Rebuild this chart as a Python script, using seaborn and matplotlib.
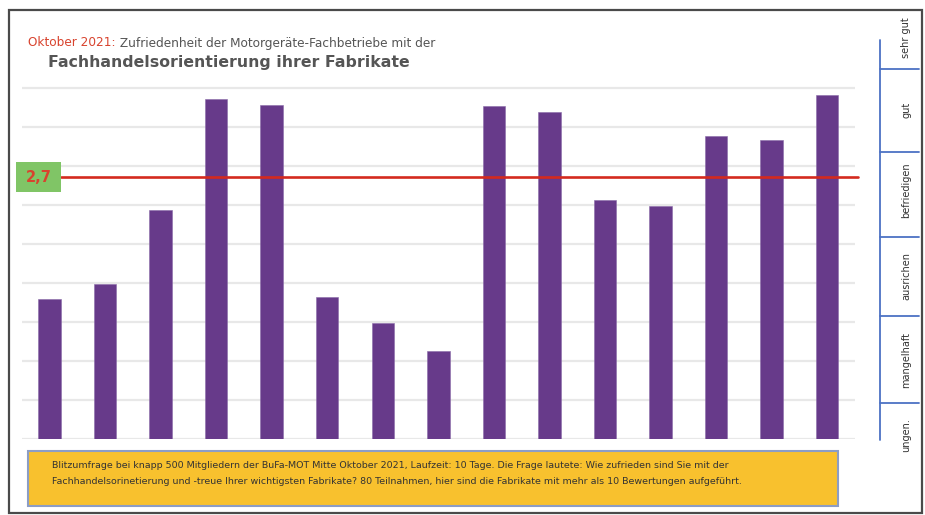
import matplotlib
matplotlib.use("Agg")
import matplotlib.pyplot as plt
import matplotlib.patches as mpatches
import matplotlib.transforms as mtransforms
import seaborn as sns
import pandas as pd
import numpy as np

# ---------------- data ----------------
fabrikate = [f"Fabrikat {i}" for i in range(1, 16)]
# school grades (1 = sehr gut ... 6 = ungenuegend)
noten = [4.21, 4.01, 3.07, 1.64, 1.72, 4.18, 4.51, 4.88, 1.73, 1.81, 2.94, 3.01, 2.11, 2.16, 1.59]
mittelwert = 2.64          # position of the red line
mittelwert_label = "2,7"
skala_labels = ["sehr gut", "gut", "befriedigen", "ausrichen", "mangelhaft", "ungen."]
skala_grenzen = [0.88, 1.25, 2.32, 3.41, 4.43, 5.54, 6.02]   # right-hand scale (grade units)
titel_rot = "Oktober 2021:"
titel_1 = "Zufriedenheit der Motorgeräte-Fachbetriebe mit der"
titel_2 = "Fachhandelsorientierung ihrer Fabrikate"
fuss_1 = ("Blitzumfrage bei knapp 500 Mitgliedern der BuFa-MOT Mitte Oktober 2021, Laufzeit: 10 Tage. "
          "Die Frage lautete: Wie zufrieden sind Sie mit der")
fuss_2 = ("Fachhandelsorinetierung und -treue Ihrer wichtigsten Fabrikate? 80 Teilnahmen, "
          "hier sind die Fabrikate mit mehr als 10 Bewertungen aufgeführt.")

SCHLECHTESTE = 6.0
df = pd.DataFrame({"fabrikat": fabrikate, "note": noten})
df["hoehe"] = SCHLECHTESTE - df["note"]

# ---------------- layout ----------------
W, H = 925, 515
sns.set_theme(style="white")
plt.rcParams["font.family"] = ["DejaVu Sans"]

fig = plt.figure(figsize=(W / 100, H / 100), dpi=100)
fig.patch.set_facecolor("white")

def fx(px):
    return px / W

def fy(py):
    return 1 - py / H

base_px = 438.5
unit_px = 77.82
ymax = 5.2
top_px = base_px - ymax * unit_px
ax_left, ax_right = 21.7, 855.0
ax = fig.add_axes([fx(ax_left), fy(base_px), (ax_right - ax_left) / W, (base_px - top_px) / H])

sns.barplot(data=df, x="fabrikat", y="hoehe", color="#673A8A", saturation=1,
            width=0.405, ax=ax, zorder=3, edgecolor="#8a6aa8", linewidth=0.4)
ax.set_xlim(-0.5, len(fabrikate) - 0.5)
ax.set_ylim(0, ymax)
ax.set_yticks(np.arange(0, 5.0, 0.5))
ax.yaxis.grid(True, color="#e8e8e8", linewidth=1.6, zorder=0)
ax.set_axisbelow(True)
ax.set_xticks([])
ax.tick_params(left=False, labelleft=False)
ax.set_xlabel("")
ax.set_ylabel("")
for s in ax.spines.values():
    s.set_visible(False)
ax.patch.set_alpha(0)

# red mean line
trans = mtransforms.blended_transform_factory(ax.transAxes, ax.transData)
x0 = (61 - ax_left) / (ax_right - ax_left)
x1 = (858 - ax_left) / (ax_right - ax_left)
ax.plot([x0, x1], [SCHLECHTESTE - mittelwert] * 2, color="#D42A1E", lw=1.9,
        transform=trans, clip_on=False, zorder=4)

# green label box
y_line_px = base_px - (SCHLECHTESTE - mittelwert) * unit_px
box = mpatches.Rectangle((fx(16), fy(191.7)), (61 - 16) / W, (191.7 - 161.7) / H,
                         transform=fig.transFigure, facecolor="#80C566", edgecolor="none", zorder=5)
fig.patches.append(box)
fig.text(fx(38.5), fy(y_line_px), mittelwert_label, color="#D8432E", fontsize=10.5,
         fontweight="bold", ha="center", va="center", zorder=6)

# right-hand grade scale
ax2 = fig.add_axes([fx(857), fy(base_px), (922 - 857) / W, (base_px - top_px) / H])
ax2.set_xlim(857, 922)
ax2.set_ylim(0, ymax)
ax2.axis("off")
ax2.plot([880, 880], [SCHLECHTESTE - skala_grenzen[0], SCHLECHTESTE - skala_grenzen[-1]],
         color="#4C72C4", lw=1.3, clip_on=False)
for g in skala_grenzen[1:-1]:
    ax2.plot([880, 919], [SCHLECHTESTE - g] * 2, color="#4C72C4", lw=1.3, clip_on=False)
label_y_px = [38, 110, 190, 276, 360, 435]
for lab, py in zip(skala_labels, label_y_px):
    fig.text(fx(906), fy(py), lab, rotation=90, ha="center", va="center",
             fontsize=7.0, color="#333333")

# title
t1 = fig.text(fx(28), fy(43), titel_rot, color="#D8432E", fontsize=8.7, va="center", ha="left")
ann = ax.annotate(" " + titel_1, xy=(1, 0.5), xycoords=t1, va="center", ha="left",
                  fontsize=8.7, color="#555555", annotation_clip=False)
fig.text(fx(48), fy(62), titel_2, color="#555555", fontsize=11.35, fontweight="bold",
         va="center", ha="left")

# footer box
fbox = mpatches.Rectangle((fx(27.7), fy(506)), (838 - 27.7) / W, (506 - 450.7) / H,
                          transform=fig.transFigure, facecolor="#F8C12E",
                          edgecolor="#8C9DC5", linewidth=1.5, zorder=5)
fig.patches.append(fbox)
fig.text(fx(52), fy(465), fuss_1, fontsize=6.8, color="#333333", va="center", ha="left", zorder=6)
fig.text(fx(52), fy(482), fuss_2, fontsize=6.8, color="#333333", va="center", ha="left", zorder=6)

# outer frame
frame = mpatches.Rectangle((fx(9), fy(513)), (922 - 9) / W, (513 - 10) / H,
                           transform=fig.transFigure, facecolor="none",
                           edgecolor="#4a4a4a", linewidth=1.6, zorder=10)
fig.patches.append(frame)

fig.savefig("out.png", dpi=100)
